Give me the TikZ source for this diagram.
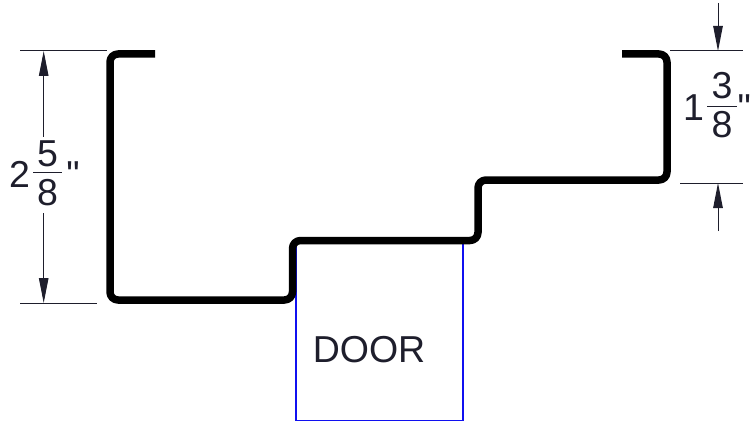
\documentclass[tikz,border=0pt]{standalone}
\usepackage{fontspec}
\setmainfont{Liberation Sans}
\newfontfamily\inchfont{Liberation Sans}
\usetikzlibrary{arrows.meta}
\definecolor{inkc}{HTML}{1E1E2C}
\definecolor{doorc}{HTML}{1010F0}
\tikzset{
  profile/.style={line width=7.5pt,black,line cap=butt,line join=round,rounded corners=8pt},
  doorbox/.style={draw=doorc,line width=1.2pt,minimum width=167pt,minimum height=179.9pt,inner sep=0pt,outer sep=0pt,anchor=north west},
  extline/.style={draw=inkc,line width=1pt},
  dimline/.style={draw=inkc,line width=1pt,-{Triangle[length=25pt,width=9.5pt,inkc]}},
  bar/.style={draw=inkc,line width=0.9pt},
  lbl/.style={text=inkc,font=\fontsize{37.5}{37.5}\selectfont,inner sep=0pt,anchor=base}
}
\begin{document}
\begin{tikzpicture}[x=1pt,y=-1pt]
\useasboundingbox (0,0) rectangle (751,422);
% door
\node[doorbox] (door) at (295.9,240.5) {};
\node[lbl] (doorlabel) at (369,362) {DOOR};
% profile
\coordinate (p0) at (155,54);
\coordinate (p1) at (110,54);
\coordinate (p2) at (110,300);
\coordinate (p3) at (292.5,300);
\coordinate (p4) at (292.5,240.5);
\coordinate (p5) at (478,240.5);
\coordinate (p6) at (478,180);
\coordinate (p7) at (667,180);
\coordinate (p8) at (667,54);
\coordinate (p9) at (622,54);
\draw[profile] (p0) -- (p1) -- (p2) -- (p3) -- (p4) -- (p5) -- (p6) -- (p7) -- (p8) -- (p9);
% left dimension
\coordinate (la) at (20,51);
\coordinate (lb) at (107,51);
\coordinate (lc) at (20,303);
\coordinate (ld) at (97,303);
\coordinate (le) at (43.7,51);
\coordinate (lf) at (43.7,137);
\coordinate (lg) at (43.7,303);
\coordinate (lh) at (43.7,213);
\draw[extline] (la) -- (lb);
\draw[extline] (lc) -- (ld);
\draw[dimline] (lf) -- (le);
\draw[dimline] (lh) -- (lg);
\node[lbl] (l2) at (19.5,187) {2};
\node[lbl] (l5) at (47.5,166) {5};
\node[lbl] (l8) at (47.5,205) {8};
\node[lbl] (lq) at (73,187) {\inchfont "};
\coordinate (lba) at (33,172);
\coordinate (lbb) at (62,172);
\draw[bar] (lba) -- (lbb);
% right dimension
\coordinate (ra) at (670,51);
\coordinate (rb) at (743,51);
\coordinate (rc) at (680,183);
\coordinate (rd) at (743,183);
\coordinate (re) at (718,3);
\coordinate (rf) at (718,51);
\coordinate (rg) at (718,231);
\coordinate (rh) at (718,183);
\draw[extline] (ra) -- (rb);
\draw[extline] (rc) -- (rd);
\draw[dimline] (re) -- (rf);
\draw[dimline] (rg) -- (rh);
\node[lbl] (r1) at (693.5,121) {1};
\node[lbl] (r3) at (722,98.5) {3};
\node[lbl] (r8) at (722,137.5) {8};
\node[lbl] (rq) at (744.2,121) {\inchfont "};
\coordinate (rba) at (707,106);
\coordinate (rbb) at (737,106);
\draw[bar] (rba) -- (rbb);
\end{tikzpicture}
\end{document}
